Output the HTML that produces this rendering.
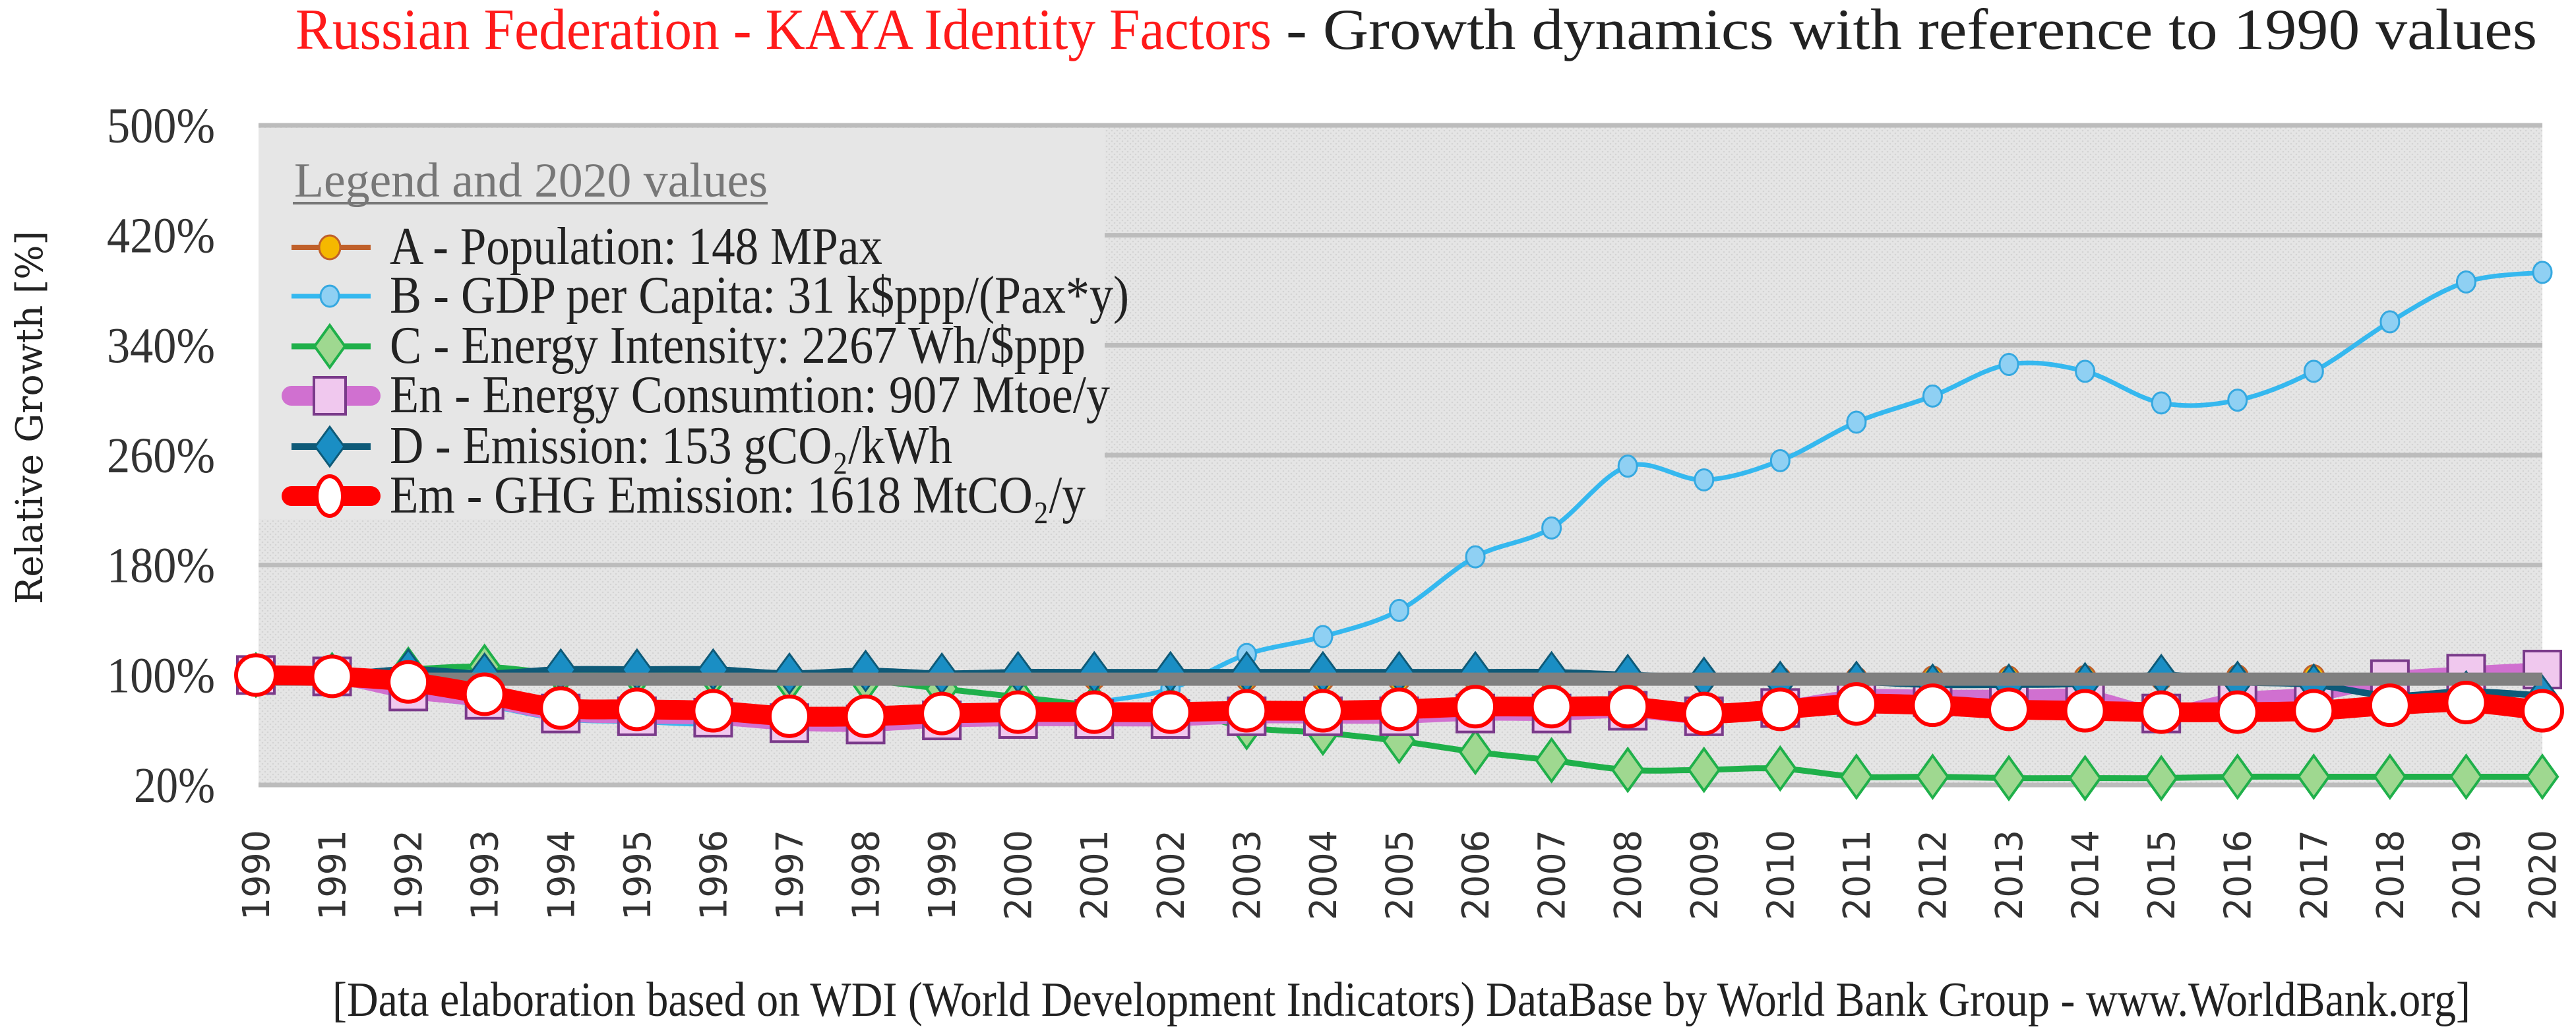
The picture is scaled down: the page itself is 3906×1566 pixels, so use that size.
<!DOCTYPE html>
<html><head><meta charset="utf-8"><style>
html,body{margin:0;padding:0;background:#fff;}
svg{display:block;}
</style></head><body>
<svg id="chart" width="3906" height="1566" viewBox="0 0 3906 1566" xmlns="http://www.w3.org/2000/svg">
<defs>
<pattern id="dots" width="8" height="8" patternUnits="userSpaceOnUse">
<rect width="8" height="8" fill="#e5e5e5"/>
<circle cx="2" cy="2" r="1.3" fill="#d4d4d4"/><circle cx="6" cy="6" r="1.3" fill="#d4d4d4"/>
</pattern>
</defs>
<g id="titles">
<text x="448" y="74" font-family="Liberation Serif, serif" font-size="88" fill="#ff1a1a" textLength="1480" lengthAdjust="spacingAndGlyphs">Russian Federation - KAYA Identity Factors</text>
<text x="1950" y="74" font-family="Liberation Serif, serif" font-size="88" fill="#222" textLength="1897" lengthAdjust="spacingAndGlyphs">- Growth dynamics with reference to 1990 values</text>
<text transform="translate(64,916) rotate(-90)" font-family="DejaVu Serif, serif" font-size="56" fill="#222" textLength="566" lengthAdjust="spacingAndGlyphs">Relative Growth [%]</text>
<text x="504" y="1540" font-family="Liberation Serif, serif" font-size="74" fill="#222" textLength="3242" lengthAdjust="spacingAndGlyphs">[Data elaboration based on WDI (World Development Indicators) DataBase by World Bank Group - www.WorldBank.org]</text>
</g>
<rect x="392" y="190" width="3463" height="1000" fill="url(#dots)"/>
<g id="grid"></g>
<g id="series"></g>
<g id="legend">
<rect x="392" y="194" width="1283" height="593" fill="#e6e6e6"/>
<text x="446" y="298" font-family="Liberation Serif, serif" font-size="74" fill="#777" textLength="718" lengthAdjust="spacingAndGlyphs">Legend and 2020 values</text>
<line x1="444" y1="308" x2="1164" y2="308" stroke="#777" stroke-width="4"/>
</g>
<g id="xlabels"></g>
</svg>
<script>
const years = [1990,1991,1992,1993,1994,1995,1996,1997,1998,1999,2000,2001,2002,2003,2004,2005,2006,2007,2008,2009,2010,2011,2012,2013,2014,2015,2016,2017,2018,2019,2020];
const yTicks = [20,100,180,260,340,420,500];
const yTickLabels = ["20%","100%","180%","260%","340%","420%","500%"];
const popA = [100,100,100,100,99.5,99.5,99,99,98.5,98.5,98,98,97.5,97.5,97,97,97,97,97,97,97,97,97.5,97.5,98,98,98.5,98.5,98.5,98.5,98];
const gdpB = [100,97,85,78,68,66,64,66,62,65,72,80,90,115,128,147,186,207,252,242,256,284,303,326,321,298,300,321,357,386,393];
const intC = [100,100,104,106,101,100,100,96,96,90,84,78,76,62,58,52,44,38,31,31,32,26,26,25,25,25,26,26,26,26,26];
const enEn = [100,99,88,82,72,70,69,65,64,67,68,68,68,70,70,70,72,72,74,70,76,84,84,84,84,72,82,86,97,101,104];
const emiD = [100,100,104,101,104,104,104,101,103,101,102,102,102,102,102,102,102,102,100,98,95,95,93,93,94,100,95,93,85,88,85];
const ghgEm = [100,99,95,86,76,75,74,70,70,72,73,73,73,74,74,75,77,77,77,72,75,79,78,75,74,73,73,74,78,80,74];
const refGray = [97,97,97,97,97,97,97,97,97,97,97,97,97,97,97,97,97,97,97,97,97,97,97,97,97,97,97,97,97,97,97];

const NS="http://www.w3.org/2000/svg";
const X0=388,X1=3855,Y20=1190,Y500=190;
function xs(i){return X0+(X1-X0)*i/(years.length-1);}
function ys(v){return Y20-(v-20)*(Y20-Y500)/480;}
function mk(tag,attrs,parent){const e=document.createElementNS(NS,tag);for(const k in attrs)e.setAttribute(k,attrs[k]);parent.appendChild(e);return e;}
function smooth(vals){
  const p=vals.map((v,i)=>[xs(i),ys(v)]);
  let d="M"+p[0][0]+","+p[0][1];
  for(let i=0;i<p.length-1;i++){
    const p0=p[i-1]||p[i],p1=p[i],p2=p[i+1],p3=p[i+2]||p2;
    const c1=[p1[0]+(p2[0]-p0[0])/6,p1[1]+(p2[1]-p0[1])/6];
    const c2=[p2[0]-(p3[0]-p1[0])/6,p2[1]-(p3[1]-p1[1])/6];
    d+=" C"+c1[0]+","+c1[1]+" "+c2[0]+","+c2[1]+" "+p2[0]+","+p2[1];
  }
  return d;
}
const grid=document.getElementById('grid');
yTicks.forEach((t,i)=>{
  const l=mk('line',{x1:392,x2:3855,y1:ys(t),y2:ys(t),stroke:'#bcbcbc','stroke-width':7},grid);
  
  
  const w=yTickLabels[i].length*41;
  const tx=mk('text',{x:326,y:ys(t)+26,'text-anchor':'end','font-family':'Liberation Serif, serif','font-size':76,fill:'#333',textLength:w,lengthAdjust:'spacingAndGlyphs'},grid);
  tx.textContent=yTickLabels[i];
  
  
});
const xl=document.getElementById('xlabels');
years.forEach((y,i)=>{
  const t=mk('text',{transform:'translate('+(xs(i)+20)+',1258) rotate(-90)','text-anchor':'end','font-family':'DejaVu Sans, sans-serif','font-size':56,fill:'#333',textLength:137,lengthAdjust:'spacingAndGlyphs'},xl);
  t.textContent=y;
  
  
});
const S=document.getElementById('series');
function marker(type,x,y,g,o){
  if(type==='circle') return mk('ellipse',{cx:x,cy:y,rx:o.rx,ry:o.ry,fill:o.fill,stroke:o.stroke,'stroke-width':o.sw},g);
  if(type==='square') return mk('rect',{x:x-o.rx,y:y-o.ry,width:2*o.rx,height:2*o.ry,fill:o.fill,stroke:o.stroke,'stroke-width':o.sw},g);
  if(type==='diamond') return mk('polygon',{points:(x)+','+(y-o.ry)+' '+(x+o.rx)+','+y+' '+x+','+(y+o.ry)+' '+(x-o.rx)+','+y,fill:o.fill,stroke:o.stroke,'stroke-width':o.sw},g);
}
function series(name,vals,lineColor,lw,type,o){
  const g=mk('g',{},S);
  
  
  const p=mk('path',{d:smooth(vals),fill:'none',stroke:lineColor,'stroke-width':lw,'stroke-linejoin':'round'},g);
  
  
  if(type) vals.forEach((v,i)=>{
    const m=marker(type,xs(i),ys(v),g,o);
    
    
  });
}
series('series-population',popA,'#c0602a',8,'circle',{rx:16,ry:18,fill:'#f5b800',stroke:'#c0602a',sw:3});
series('series-gdp-per-capita',gdpB,'#35b8ef',7,'circle',{rx:14,ry:16,fill:'#8fd0f3',stroke:'#35a8e0',sw:3});
series('series-energy-intensity',intC,'#1fb04a',9,'diamond',{rx:23,ry:32,fill:'#9fd890',stroke:'#1fb04a',sw:4});
series('series-energy-consumption',enEn,'#d070d0',22,'square',{rx:28,ry:28,fill:'#f0c8ee',stroke:'#7a3a8a',sw:4});
series('series-emission-intensity',emiD,'#0e5a78',10,'diamond',{rx:22,ry:30,fill:'#1a8ec4',stroke:'#0e5a78',sw:3});
series('series-reference-1990',refGray,'#808080',20,null,{});
series('series-ghg-emission',ghgEm,'#ff0000',30,'circle',{rx:30,ry:30,fill:'#ffffff',stroke:'#ff0000',sw:6});

const leg=document.getElementById('legend');
const legLabels=["A - Population: 148 MPax","B - GDP per Capita: 31 k$ppp/(Pax*y)","C - Energy Intensity: 2267 Wh/$ppp","En - Energy Consumtion: 907 Mtoe/y","D - Emission: 153 gCO₂/kWh","Em - GHG Emission: 1618 MtCO₂/y"];
const legEnds=[1338,1712,1646,1683,1444,1646];
const legY=[375,449,525,600,677,752];
const legStyle=[
 ['#c0602a',8,'circle',{rx:16,ry:18,fill:'#f5b800',stroke:'#c0602a',sw:3}],
 ['#35b8ef',7,'circle',{rx:14,ry:16,fill:'#8fd0f3',stroke:'#35a8e0',sw:3}],
 ['#1fb04a',9,'diamond',{rx:23,ry:32,fill:'#9fd890',stroke:'#1fb04a',sw:4}],
 ['#d070d0',30,'square',{rx:24,ry:28,fill:'#f0c8ee',stroke:'#7a3a8a',sw:4}],
 ['#0e5a78',10,'diamond',{rx:22,ry:30,fill:'#1a8ec4',stroke:'#0e5a78',sw:3}],
 ['#ff0000',30,'circle',{rx:20,ry:30,fill:'#ffffff',stroke:'#ff0000',sw:6}]];
legLabels.forEach((lab,i)=>{
  const g=mk('g',{},leg);
  
  
  const s=legStyle[i];
  mk('line',{x1:442,x2:562,y1:legY[i],y2:legY[i],stroke:s[0],'stroke-width':s[1],'stroke-linecap':i>=3&&i!==4?'round':'butt'},g);
  marker(s[2],500,legY[i],g,s[3]);
  const t=mk('text',{x:591,y:legY[i]+25,'font-family':'Liberation Serif, serif','font-size':80,fill:'#222',textLength:legEnds[i]-591,lengthAdjust:'spacingAndGlyphs'},g);
  t.textContent=lab;
});
</script>
</body></html>
